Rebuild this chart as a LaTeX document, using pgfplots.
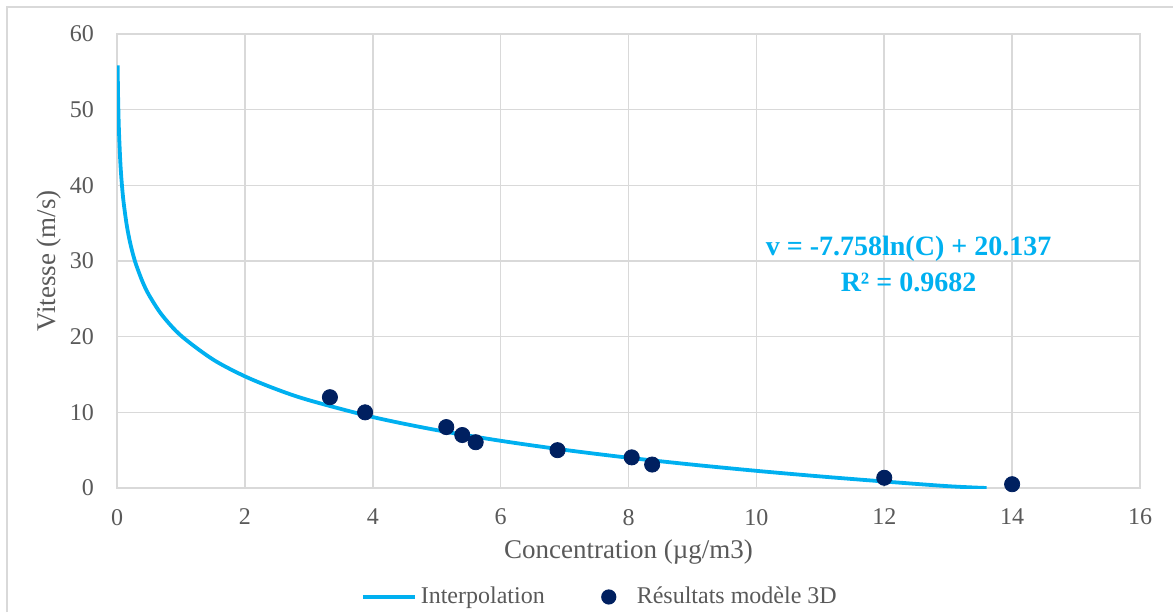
\documentclass[border=0pt]{standalone}
\usepackage{pgfplots}
\pgfplotsset{compat=1.18}
\usepackage{fontspec}
\setmainfont{Liberation Serif}
\definecolor{fitc}{RGB}{0,176,240}
\definecolor{ptc}{RGB}{0,32,96}
\definecolor{gridc}{RGB}{217,217,217}
\definecolor{txtc}{RGB}{89,89,89}
\begin{document}
\begin{tikzpicture}[x=0.5pt,y=0.5pt]
\useasboundingbox (0,0) rectangle (1173,612);
\draw[gridc,line width=1pt] (7,0) -- (7,605) -- (1173,605);
\begin{axis}[
  at={(58.5pt,62pt)}, anchor=south west,
  scale only axis, width=511.5pt, height=227pt,
  xmin=0, xmax=16, ymin=0, ymax=60,
  xtick={0,2,...,16}, ytick={0,10,...,60},
  major tick length=0pt,
  grid=major, grid style={gridc, line width=0.8pt},
  axis line style={gridc, line width=0.8pt},
  tick label style={font=\fontsize{12}{14}\selectfont, text=txtc},
  /pgf/number format/assume math mode=true,
  xticklabel style={yshift=-7pt},
  yticklabel style={xshift=-8pt},
  xlabel={Concentration (µg/m3)},
  ylabel={Vitesse (m/s)},
  label style={font=\fontsize{13.5}{15}\selectfont, text=txtc},
  xlabel style={at={(axis description cs:0.5,-0.142)}, anchor=center},
  ylabel style={at={(axis description cs:-0.066,0.5)}, anchor=center},
  legend style={at={(0.473,-0.240)}, anchor=center, draw=none, fill=none,
    font=\fontsize{12}{14}\selectfont, text=txtc, legend columns=2,
    /tikz/every even column/.append style={column sep=26pt}},
  legend cell align=left,
  clip=true,
]
\addplot[fitc, line width=1.9pt, smooth,
  legend image code/.code={\draw[fitc, line width=1.9pt] (0pt,0pt) -- (26pt,0pt);}] coordinates {
(0.01,55.86)(0.015,52.72)(0.02,50.49)(0.03,47.34)(0.05,43.38)(0.07,40.77)(0.1,38.00)(0.15,34.86)(0.2,32.62)(0.25,30.89)(0.3,29.48)(0.4,27.25)(0.5,25.51)(0.7,22.90)(1,20.14)(1.5,16.99)(2,14.76)(2.5,13.03)(3,11.61)(4,9.38)(5,7.65)(6,6.24)(7,5.04)(8,4.00)(9,3.09)(10,2.27)(11,1.53)(12,0.86)(13,0.24)(13.6,0.00)
};
\addlegendentry{Interpolation}
\addplot[only marks, mark=*, mark size=3.8pt, color=ptc,
  legend image code/.code={\path[draw=none,fill=none] (-4pt,-1pt) rectangle (12pt,1pt); \fill[ptc, draw=none] (0pt,0pt) circle (3.8pt);}] coordinates {
(3.33,12.0)(3.88,10.0)(5.15,8.05)(5.40,7.0)(5.61,6.05)(6.89,5.0)(8.05,4.05)(8.37,3.1)(12.0,1.35)(14.0,0.5)
};
\addlegendentry{Résultats modèle 3D}
\node[font=\bfseries\fontsize{14}{18}\selectfont, text=fitc, align=center] at (axis cs:12.38,29.6) {v = -7.758ln(C) + 20.137\\R² = 0.9682};
\end{axis}
\end{tikzpicture}
\end{document}
